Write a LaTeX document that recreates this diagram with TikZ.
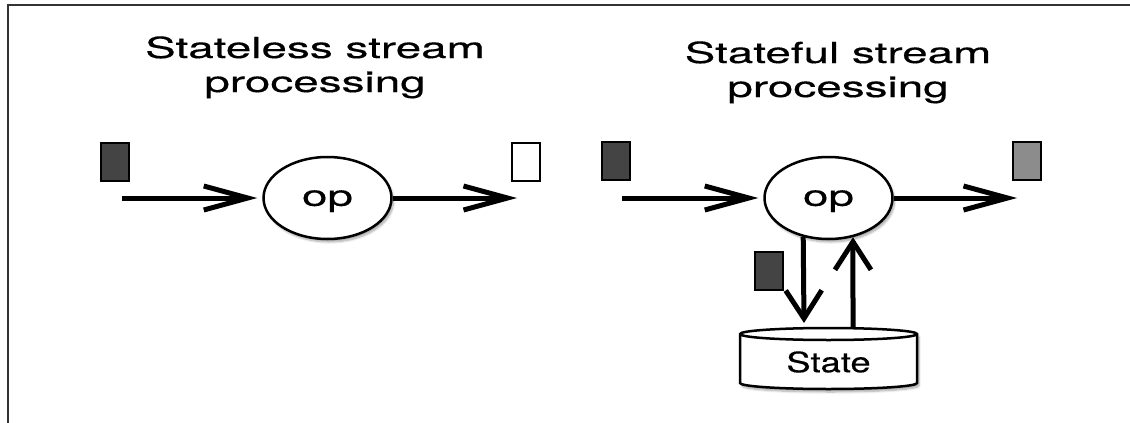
\documentclass[tikz,border=0pt]{standalone}
\usepackage{fontspec}
\setmainfont{TeX Gyre Heros}[FakeBold=0.35]
\usepackage{graphicx}
\usetikzlibrary{arrows.meta,shapes.geometric,shadows.blur}

\definecolor{pktdark}{HTML}{444444}
\definecolor{pktgray}{HTML}{8C8C8C}
\definecolor{framegray}{HTML}{333333}

% horizontally widened text
\newcommand{\wide}[2]{\scalebox{#1}[1]{#2}}

\begin{document}
\begin{tikzpicture}[x=1pt,y=-1pt,
  title/.style={anchor=north,inner sep=0pt,font=\fontsize{29}{34}\selectfont},
  softshadow/.style={blur shadow={shadow xshift=2pt,shadow yshift=-3pt,shadow blur steps=6,shadow opacity=35}},
  opnode/.style={ellipse,draw,line width=2.5pt,fill=white,minimum width=128pt,minimum height=82pt,
    inner sep=0pt,text depth=0pt,font=\fontsize{29}{34}\selectfont,softshadow},
  packet/.style={draw,line width=2pt,inner sep=0pt,minimum width=28pt,minimum height=38pt},
  flow/.style={line width=5pt,-{Straight Barb[length=44pt,width=24pt]}},
  vflow/.style={line width=5pt,-{Straight Barb[length=28pt,width=36pt]}},
  cyl/.style={draw,line width=2.5pt,fill=white},
]
\useasboundingbox (0,0) rectangle (1130,423);

% frame
\draw[framegray,line width=2pt] (1130,5) -- (8,5) -- (8,423);

% ---------- stateless ----------
\node[title] (tl) at (315,34) {\wide{1.58}{\begin{tabular}{@{}c@{}}Stateless stream\\processing\end{tabular}}};

\node[packet,fill=pktdark] (pinL) at (114.5,161.5) {};
\node[packet,fill=white] (poutL) at (526,161.5) {};
\node[opnode] (opL) at (327.5,198) {\wide{1.58}{op}};

\coordinate (inL) at (122,198);
\coordinate (outL) at (517,198);
\draw[flow,shorten >=5pt] (inL) -- (opL.west);
\draw[flow] (opL.east) -- (outL);

% ---------- stateful ----------
\node[title] (tr) at (838,39) {\wide{1.58}{\begin{tabular}{@{}c@{}}Stateful stream\\processing\end{tabular}}};

\node[packet,fill=pktdark] (pinR) at (616,160.5) {};
\node[packet,fill=pktgray] (poutR) at (1027,160.5) {};
\node[packet,fill=pktdark] (pst) at (768.5,271) {};
\node[opnode] (opR) at (828.5,198) {\wide{1.58}{op}};

\coordinate (inR) at (622,198);
\coordinate (outR) at (1017,198);
\draw[flow,shorten >=5pt] (inR) -- (opR.west);
\draw[flow] (opR.east) -- (outR);

% state store
\path[cyl,softshadow] (740,334) -- (740,383)
  arc[start angle=180,end angle=360,x radius=88.5pt,y radius=6pt]
  -- (917,334)
  arc[start angle=0,end angle=180,x radius=88.5pt,y radius=6pt] -- cycle;
\draw[line width=2.5pt] (740,334) arc[start angle=180,end angle=360,x radius=88.5pt,y radius=6pt];
\node[inner sep=0pt,font=\fontsize{28}{34}\selectfont] (state) at (828.5,362) {\wide{1.3}{State}};

\coordinate (stDown) at (804,323);
\coordinate (stUp) at (853,328);
\draw[vflow] (opR.237.1) -- (stDown);
\draw[vflow] (stUp) -- (opR.302.9);
\end{tikzpicture}
\end{document}
